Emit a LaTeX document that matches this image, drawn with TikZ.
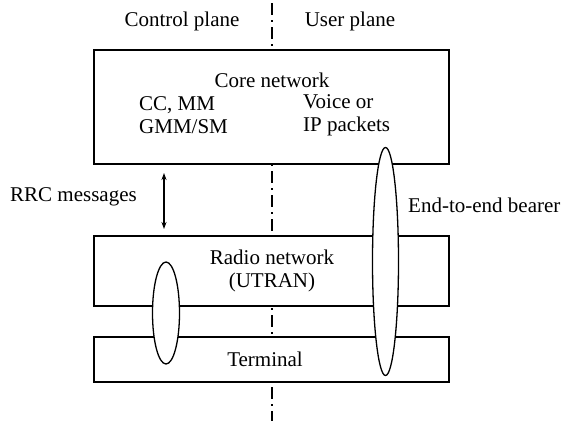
\documentclass[tikz,border=0pt]{standalone}
\usepackage{fontspec}
\setmainfont{Liberation Serif}
\usetikzlibrary{arrows.meta,positioning,shapes.geometric}

\begin{document}
\begin{tikzpicture}[x=1pt,y=-1pt,
    lbl/.style={inner sep=0pt,font=\fontsize{21}{23}\selectfont,align=left},
    layer/.style={draw,line width=1.3pt,fill=white,minimum width=355pt,inner sep=0pt},
    bearer/.style={ellipse,draw,line width=1.3pt,fill=white,inner sep=0pt},
    plane/.style={line width=1.2pt,dash pattern=on 12pt off 5pt on 2pt off 5pt}]
    \useasboundingbox (0,0) rectangle (565,426);
    \coordinate (ptop) at (272,3);
    \coordinate (pbot) at (272,421);
    \draw[plane] (ptop) -- (pbot);
    \node[lbl] (ctrl) at (182,21) {Control plane};
    \node[lbl] (user) at (350,21) {User plane};
    \node[layer,minimum height=114pt] (core) at (271.5,107) {};
    \node[layer,minimum height=70pt] (radio) at (271.5,271) {};
    \node[layer,minimum height=45pt] (term) at (271.5,359.5) {};
    \node[bearer,minimum width=27pt,minimum height=102pt] (sig) at (166,313) {};
    \node[bearer,minimum width=26pt,minimum height=228pt] (e2e) at (385.5,261.5) {};
    \node[lbl] (cn) at (272,80) {Core network};
    \node[lbl,anchor=west] (ccmm) at (139,115.5) {CC, MM\\GMM/SM};
    \node[lbl,anchor=west] (voip) at (303,115.5) {Voice or\\IP packets};
    \node[lbl,align=center] (rn) at (272,271) {Radio network\\(UTRAN)};
    \node[lbl] (tm) at (265,359) {Terminal};
    \node[lbl,anchor=west] (rrc) at (10,197) {RRC messages};
    \node[lbl,anchor=west] (ebear) at (408,205) {End-to-end bearer};
    \coordinate (rrcup) at (164,173);
    \coordinate (rrcdn) at (164,229);
    \draw[{Stealth[length=7pt,width=5pt]}-{Stealth[length=7pt,width=5pt]},line width=1.1pt] (rrcup) -- (rrcdn);
\end{tikzpicture}
\end{document}
